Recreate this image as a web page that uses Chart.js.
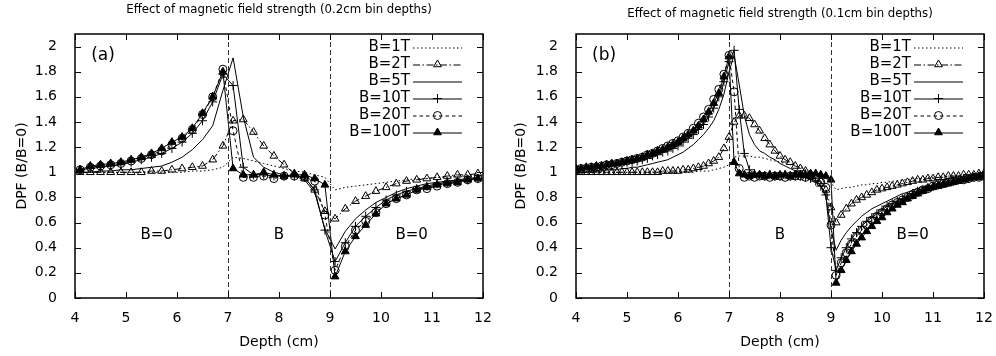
<!DOCTYPE html>
<html lang="en">
<head>
<meta charset="UTF-8">
<title>Effect of magnetic field strength</title>
<script src="https://cdn.jsdelivr.net/npm/chart.js"></script>
<style>
  body { margin: 0; background: #fff; }
  .wrap { display: flex; width: 996px; height: 356px; }
  canvas { display: block; }
</style>
</head>
<body>
<div class="wrap">
  <canvas id="chartA" width="498" height="356"></canvas>
  <canvas id="chartB" width="498" height="356"></canvas>
</div>
<script>
// ---- data ----
const fieldLabels = ['B=1T', 'B=2T', 'B=5T', 'B=10T', 'B=20T', 'B=100T'];
const regionNames = ['B=0', 'B', 'B=0'];
const xTicks = [4, 5, 6, 7, 8, 9, 10, 11, 12];
const yTicks = [0, 0.2, 0.4, 0.6, 0.8, 1, 1.2, 1.4, 1.6, 1.8, 2];
const fieldEdges = [7, 9];

// (a) 0.2cm bins
const depthA = [4.1, 4.3, 4.5, 4.7, 4.9, 5.1, 5.3, 5.5, 5.7, 5.9,
  6.1, 6.3, 6.5, 6.7, 6.9, 7.1, 7.3, 7.5, 7.7, 7.9,
  8.1, 8.3, 8.5, 8.7, 8.9, 9.1, 9.3, 9.5, 9.7, 9.9,
  10.1, 10.3, 10.5, 10.7, 10.9, 11.1, 11.3, 11.5, 11.7, 11.9];
const a1T = [1.00, 1.00, 1.00, 1.00, 1.00, 1.00, 1.00, 1.00, 1.00, 1.00,
  1.00, 1.01, 1.01, 1.02, 1.04, 1.12, 1.11, 1.09, 1.07, 1.05,
  1.03, 1.01, 1.00, 0.98, 0.96, 0.86, 0.88, 0.89, 0.90, 0.91,
  0.92, 0.93, 0.94, 0.95, 0.95, 0.96, 0.96, 0.97, 0.97, 0.98];
const a2T = [1.00, 1.00, 1.00, 1.00, 1.00, 1.00, 1.00, 1.01, 1.01, 1.02,
  1.03, 1.04, 1.05, 1.10, 1.21, 1.41, 1.42, 1.32, 1.21, 1.13,
  1.06, 0.99, 0.95, 0.86, 0.69, 0.63, 0.71, 0.77, 0.81, 0.85,
  0.88, 0.91, 0.93, 0.94, 0.95, 0.96, 0.97, 0.98, 0.98, 0.99];
const a5T = [1.00, 1.00, 1.01, 1.01, 1.02, 1.02, 1.03, 1.04, 1.05, 1.08,
  1.12, 1.18, 1.26, 1.37, 1.65, 1.91, 1.44, 1.12, 1.04, 1.00,
  0.98, 0.97, 0.94, 0.84, 0.55, 0.39, 0.53, 0.63, 0.70, 0.76,
  0.80, 0.84, 0.87, 0.89, 0.91, 0.92, 0.93, 0.94, 0.95, 0.96];
const a10T = [1.02, 1.03, 1.04, 1.05, 1.06, 1.08, 1.10, 1.12, 1.15, 1.19,
  1.24, 1.31, 1.41, 1.56, 1.78, 1.69, 1.04, 0.98, 0.98, 0.97,
  0.97, 0.97, 0.96, 0.86, 0.54, 0.29, 0.44, 0.57, 0.65, 0.72,
  0.78, 0.82, 0.85, 0.87, 0.89, 0.91, 0.92, 0.93, 0.94, 0.95];
const a20T = [1.02, 1.04, 1.05, 1.06, 1.07, 1.09, 1.11, 1.14, 1.17, 1.22,
  1.27, 1.34, 1.46, 1.60, 1.82, 1.33, 0.96, 0.96, 0.97, 0.95,
  0.97, 0.97, 0.96, 0.93, 0.66, 0.22, 0.41, 0.54, 0.61, 0.68,
  0.75, 0.79, 0.82, 0.86, 0.87, 0.89, 0.91, 0.92, 0.94, 0.95];
const a100T = [1.02, 1.05, 1.06, 1.07, 1.08, 1.10, 1.12, 1.15, 1.19, 1.24,
  1.28, 1.35, 1.47, 1.60, 1.80, 1.03, 0.98, 0.98, 1.00, 0.98,
  0.97, 0.98, 0.98, 0.95, 0.90, 0.17, 0.37, 0.49, 0.58, 0.67,
  0.75, 0.79, 0.82, 0.86, 0.88, 0.90, 0.91, 0.92, 0.94, 0.95];

// (b) 0.1cm bins
const depthB = [4.0, 4.1, 4.2, 4.3, 4.4, 4.5, 4.6, 4.7, 4.8, 4.9,
  5.0, 5.1, 5.2, 5.3, 5.4, 5.5, 5.6, 5.7, 5.8, 5.9,
  6.0, 6.1, 6.2, 6.3, 6.4, 6.5, 6.6, 6.7, 6.8, 6.9,
  7.0, 7.1, 7.2, 7.3, 7.4, 7.5, 7.6, 7.7, 7.8, 7.9,
  8.0, 8.1, 8.2, 8.3, 8.4, 8.5, 8.6, 8.7, 8.8, 8.9,
  9.0, 9.1, 9.2, 9.3, 9.4, 9.5, 9.6, 9.7, 9.8, 9.9,
  10.0, 10.1, 10.2, 10.3, 10.4, 10.5, 10.6, 10.7, 10.8, 10.9,
  11.0, 11.1, 11.2, 11.3, 11.4, 11.5, 11.6, 11.7, 11.8, 11.9, 12.0];
const b1T = [1.00, 1.00, 1.00, 1.00, 1.00, 1.00, 1.00, 1.00, 1.00, 1.00,
  1.00, 1.00, 1.00, 1.00, 1.00, 1.00, 1.00, 1.00, 1.00, 1.00,
  1.00, 1.00, 1.00, 1.00, 1.01, 1.01, 1.01, 1.02, 1.03, 1.04,
  1.06, 1.12, 1.13, 1.13, 1.13, 1.12, 1.12, 1.11, 1.10, 1.09,
  1.08, 1.07, 1.06, 1.05, 1.04, 1.02, 1.01, 0.99, 0.97, 0.95,
  0.92, 0.86, 0.87, 0.88, 0.88, 0.89, 0.90, 0.90, 0.91, 0.91,
  0.92, 0.92, 0.93, 0.93, 0.94, 0.94, 0.95, 0.95, 0.95, 0.96,
  0.96, 0.96, 0.97, 0.97, 0.97, 0.97, 0.98, 0.98, 0.98, 0.98, 0.98];
const b2T = [1.00, 1.00, 1.00, 1.00, 1.00, 1.00, 1.00, 1.00, 1.00, 1.00,
  1.00, 1.00, 1.00, 1.00, 1.00, 1.00, 1.00, 1.01, 1.01, 1.01,
  1.01, 1.02, 1.02, 1.03, 1.04, 1.05, 1.07, 1.09, 1.12, 1.19,
  1.28, 1.40, 1.45, 1.45, 1.43, 1.38, 1.33, 1.27, 1.22, 1.17,
  1.13, 1.10, 1.08, 1.05, 1.03, 1.01, 0.99, 0.97, 0.93, 0.86,
  0.72, 0.60, 0.66, 0.71, 0.75, 0.78, 0.80, 0.82, 0.84, 0.86,
  0.87, 0.88, 0.89, 0.90, 0.91, 0.92, 0.93, 0.94, 0.94, 0.95,
  0.95, 0.96, 0.96, 0.97, 0.97, 0.97, 0.98, 0.98, 0.98, 0.99, 0.99];
const b5T = [1.00, 1.00, 1.00, 1.01, 1.01, 1.01, 1.02, 1.02, 1.02, 1.03,
  1.03, 1.04, 1.04, 1.05, 1.06, 1.07, 1.08, 1.09, 1.10, 1.12,
  1.14, 1.16, 1.19, 1.22, 1.26, 1.30, 1.35, 1.41, 1.50, 1.62,
  1.80, 1.93, 1.70, 1.45, 1.30, 1.22, 1.17, 1.15, 1.12, 1.10,
  1.07, 1.05, 1.03, 1.01, 1.00, 0.99, 0.97, 0.94, 0.89, 0.80,
  0.55, 0.38, 0.46, 0.52, 0.57, 0.61, 0.65, 0.68, 0.71, 0.73,
  0.75, 0.77, 0.79, 0.81, 0.83, 0.84, 0.86, 0.87, 0.88, 0.89,
  0.90, 0.91, 0.92, 0.93, 0.93, 0.94, 0.95, 0.95, 0.96, 0.96, 0.97];
const b10T = [1.02, 1.02, 1.03, 1.03, 1.04, 1.04, 1.05, 1.05, 1.06, 1.07,
  1.08, 1.08, 1.09, 1.10, 1.11, 1.13, 1.14, 1.16, 1.17, 1.19,
  1.21, 1.24, 1.27, 1.30, 1.34, 1.38, 1.44, 1.51, 1.60, 1.72,
  1.88, 1.97, 1.50, 1.15, 1.02, 0.99, 0.98, 0.97, 0.98, 0.97,
  0.97, 0.98, 0.97, 0.97, 0.97, 0.96, 0.95, 0.93, 0.89, 0.82,
  0.40, 0.22, 0.32, 0.40, 0.47, 0.52, 0.57, 0.61, 0.64, 0.67,
  0.70, 0.73, 0.75, 0.77, 0.79, 0.81, 0.83, 0.85, 0.86, 0.88,
  0.89, 0.90, 0.91, 0.92, 0.93, 0.94, 0.95, 0.95, 0.96, 0.97, 0.97];
const b20T = [1.02, 1.03, 1.03, 1.04, 1.04, 1.05, 1.06, 1.06, 1.07, 1.08,
  1.09, 1.10, 1.11, 1.12, 1.14, 1.15, 1.17, 1.19, 1.21, 1.23,
  1.25, 1.28, 1.31, 1.35, 1.39, 1.44, 1.50, 1.58, 1.66, 1.78,
  1.93, 1.64, 1.03, 0.96, 0.97, 0.96, 0.97, 0.97, 0.96, 0.97,
  0.97, 0.96, 0.97, 0.97, 0.97, 0.96, 0.97, 0.95, 0.92, 0.88,
  0.58, 0.18, 0.28, 0.36, 0.43, 0.49, 0.54, 0.58, 0.62, 0.65,
  0.68, 0.71, 0.74, 0.76, 0.78, 0.80, 0.82, 0.84, 0.86, 0.87,
  0.89, 0.90, 0.91, 0.92, 0.93, 0.94, 0.94, 0.95, 0.96, 0.96, 0.97];
const b100T = [1.03, 1.03, 1.04, 1.04, 1.05, 1.05, 1.06, 1.07, 1.07, 1.08,
  1.09, 1.10, 1.11, 1.12, 1.14, 1.15, 1.17, 1.18, 1.20, 1.22,
  1.24, 1.27, 1.30, 1.33, 1.37, 1.42, 1.48, 1.55, 1.63, 1.76,
  1.92, 1.08, 0.99, 0.98, 0.97, 0.98, 0.98, 0.97, 0.98, 0.97,
  0.98, 0.98, 0.97, 0.98, 0.98, 0.98, 0.98, 0.99, 0.98, 0.97,
  0.94, 0.12, 0.22, 0.30, 0.37, 0.43, 0.48, 0.53, 0.57, 0.61,
  0.64, 0.68, 0.71, 0.74, 0.76, 0.79, 0.81, 0.83, 0.85, 0.87,
  0.88, 0.89, 0.90, 0.91, 0.92, 0.93, 0.94, 0.95, 0.96, 0.96, 0.97];

// ---- styles, one per field strength (gnuplot-like) ----
const lineStyles = [
  { borderDash: [1.5, 2.5], pointRadius: 0 },                                            // 1T dotted
  { borderDash: [7, 2.5, 1.5, 2.5], pointStyle: 'triangle', pointRadius: 4.5, pointBackgroundColor: 'rgba(0,0,0,0)' }, // 2T
  { borderDash: [], pointRadius: 0 },                                                    // 5T solid
  { borderDash: [], pointStyle: 'cross', pointRadius: 4.5, pointBackgroundColor: 'rgba(0,0,0,0)' },                   // 10T
  { borderDash: [3.5, 3], pointStyle: 'circle', pointRadius: 4, pointBackgroundColor: 'rgba(0,0,0,0)' },              // 20T
  { borderDash: [], pointStyle: 'triangle', pointRadius: 4.5, pointBackgroundColor: '#000' }                          // 100T
];

Chart.defaults.font.family = '"DejaVu Sans", sans-serif';
Chart.defaults.color = '#000';

// frame with inward ticks, field boundaries, region names, panel tag and key
const gnuplotFrame = {
  id: 'gnuplotFrame',
  afterDatasetsDraw(chart, args, opts) {
    const { ctx, chartArea: a, scales: { x, y } } = chart;
    ctx.save();

    ctx.strokeStyle = '#333';
    ctx.lineWidth = 1;
    ctx.setLineDash([5, 3]);
    fieldEdges.forEach(d => {
      const px = Math.round(x.getPixelForValue(d)) + 0.5;
      ctx.beginPath();
      ctx.moveTo(px, a.top);
      ctx.lineTo(px, a.bottom);
      ctx.stroke();
    });
    ctx.setLineDash([]);

    ctx.strokeStyle = '#000';
    ctx.lineWidth = 1.5;
    ctx.strokeRect(a.left, a.top, a.right - a.left, a.bottom - a.top);

    ctx.lineWidth = 1;
    ctx.beginPath();
    xTicks.forEach(v => {
      const px = Math.round(x.getPixelForValue(v)) + 0.5;
      ctx.moveTo(px, a.bottom); ctx.lineTo(px, a.bottom - 6);
      ctx.moveTo(px, a.top); ctx.lineTo(px, a.top + 6);
    });
    yTicks.forEach(v => {
      const py = Math.round(y.getPixelForValue(v)) + 0.5;
      ctx.moveTo(a.left, py); ctx.lineTo(a.left + 6, py);
      ctx.moveTo(a.right, py); ctx.lineTo(a.right - 6, py);
    });
    ctx.stroke();

    ctx.fillStyle = '#000';
    ctx.textAlign = 'center';
    ctx.textBaseline = 'middle';
    ctx.font = '15px "DejaVu Sans"';
    const regionAt = [5.6, 8, 10.6];
    regionNames.forEach((t, i) => ctx.fillText(t, x.getPixelForValue(regionAt[i]), y.getPixelForValue(0.5)));

    ctx.font = '17px "DejaVu Sans"';
    ctx.fillText(opts.tag, x.getPixelForValue(4.55), y.getPixelForValue(1.93));

    // key, text right-aligned before the sample
    ctx.font = '15px "DejaVu Sans"';
    ctx.textAlign = 'right';
    chart.data.datasets.forEach((ds, i) => {
      const yy = a.top + 13.5 + 17 * i;
      const x1 = a.right - 70, x2 = a.right - 21;
      ctx.fillStyle = '#000';
      ctx.fillText(ds.label, a.right - 73, yy);
      ctx.strokeStyle = '#000';
      ctx.setLineDash(ds.borderDash);
      ctx.beginPath();
      ctx.moveTo(x1, yy + 0.5);
      ctx.lineTo(x2, yy + 0.5);
      ctx.stroke();
      ctx.setLineDash([]);
      if (ds.pointRadius > 0) {
        ctx.fillStyle = ds.pointBackgroundColor;
        Chart.helpers.drawPoint(ctx, { pointStyle: ds.pointStyle, radius: ds.pointRadius, rotation: 0, borderWidth: 1 }, (x1 + x2) / 2, yy);
      }
    });
    ctx.restore();
  }
};

// no automatic label overhang padding, so the plot box sits where layout.padding puts it
const noOverhang = s => { s.paddingLeft = 0; s.paddingRight = 0; s.paddingTop = 0; s.paddingBottom = 0; };

function makePanel(id, depths, series, titleText, tag, axisWidth, titleTop, padRight, yTitlePad) {
  const datasets = fieldLabels.map((label, i) => Object.assign({
    label: label,
    data: depths.map((d, k) => ({ x: d, y: series[i][k] })),
    borderColor: '#000',
    pointBorderColor: '#000',
    borderWidth: 1,
    pointBorderWidth: 1,
    tension: 0,
    fill: false
  }, lineStyles[i]));

  return new Chart(document.getElementById(id), {
    type: 'line',
    data: { datasets: datasets },
    options: {
      responsive: false,
      animation: false,
      layout: { padding: { left: 0, right: padRight, top: 0, bottom: 0 } },
      plugins: {
        legend: { display: false },
        tooltip: { enabled: false },
        title: {
          display: true,
          text: titleText,
          fullSize: false,
          color: '#000',
          font: { size: 11.75, weight: 'normal' },
          padding: { top: titleTop, bottom: 34 - titleTop - 14.1 }
        },
        gnuplotFrame: { tag: tag }
      },
      scales: {
        x: {
          type: 'linear',
          min: 4,
          max: 12,
          afterBuildTicks: s => { s.ticks = xTicks.map(v => ({ value: v })); },
          afterFit: s => { s.height = 58; noOverhang(s); },
          grid: { display: false },
          border: { display: false },
          ticks: { font: { size: 14 }, padding: 4, maxRotation: 0 },
          title: { display: true, text: 'Depth (cm)', font: { size: 14 }, padding: { top: 0, bottom: 5 } }
        },
        y: {
          min: 0,
          max: 2.1,
          afterBuildTicks: s => { s.ticks = yTicks.map(v => ({ value: v })); },
          afterFit: s => { s.width = axisWidth; noOverhang(s); },
          grid: { display: false },
          border: { display: false },
          ticks: { font: { size: 14 }, padding: 10, callback: v => String(v) },
          title: { display: true, text: 'DPF (B/B=0)', font: { size: 14 }, padding: { top: yTitlePad, bottom: 0 } }
        }
      }
    },
    plugins: [gnuplotFrame]
  });
}

makePanel('chartA', depthA, [a1T, a2T, a5T, a10T, a20T, a100T],
  'Effect of magnetic field strength (0.2cm bin depths)', '(a)', 75, 3.4, 15, 13.6);
makePanel('chartB', depthB, [b1T, b2T, b5T, b10T, b20T, b100T],
  'Effect of magnetic field strength (0.1cm bin depths)', '(b)', 78, 7.4, 12, 14.6);
</script>
</body>
</html>
